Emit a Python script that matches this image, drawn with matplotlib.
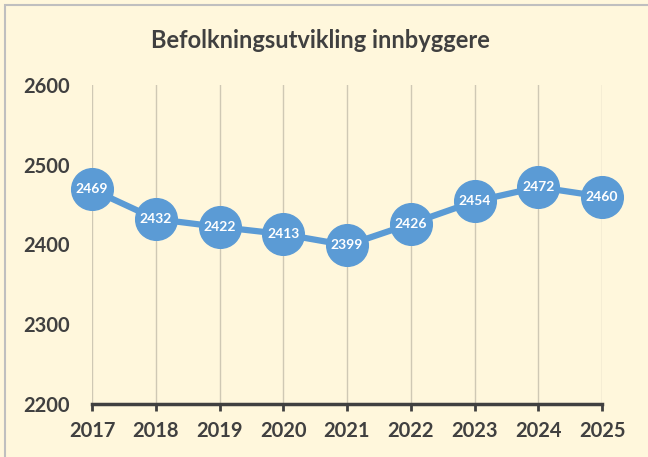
import matplotlib
matplotlib.use("Agg")
import matplotlib.pyplot as plt
from matplotlib.patches import Rectangle

years = [2017, 2018, 2019, 2020, 2021, 2022, 2023, 2024, 2025]
population = [2469, 2432, 2422, 2413, 2399, 2426, 2454, 2472, 2460]
yticks = [2200, 2300, 2400, 2500, 2600]
title = "Befolkningsutvikling innbyggere"

W, H = 648, 457
fig = plt.figure(figsize=(W/100, H/100), dpi=100)
bg = "#FFF7DC"
fig.patch.set_facecolor(bg)
fam = ["Lato", "DejaVu Sans"]
txt = "#404040"

# outer border (left/top visible)
fig.patches.append(Rectangle((5/W, -0.1), 1.2, (H-5)/H + 0.1, transform=fig.transFigure,
                             fill=False, edgecolor="#BFBFBF", linewidth=1.5))

ax = fig.add_axes([92/W, 1-404/H, (602-92)/W, (404-85)/H])
ax.set_facecolor(bg)
ax.set_xlim(years[0], years[-1])
ax.set_ylim(yticks[0], yticks[-1])
for s in ["top", "right", "left"]:
    ax.spines[s].set_visible(False)
ax.spines["bottom"].set_color(txt)
ax.spines["bottom"].set_linewidth(2.5)
ax.set_xticks(years)
ax.set_xticklabels([str(y) for y in years])
ax.set_yticks(yticks)
ax.tick_params(axis="x", direction="out", length=5, width=2, color=txt, pad=7,
               labelsize=14.5, labelcolor=txt)
ax.tick_params(axis="y", length=0, pad=16, labelsize=14.5, labelcolor=txt)
for lab in ax.get_xticklabels() + ax.get_yticklabels():
    lab.set_fontfamily(fam)
    lab.set_fontweight("bold")
ax.grid(axis="x", color="#CFC8B4", linewidth=1)
ax.set_axisbelow(True)

ax.plot(years, population, color="#5B9BD5", linewidth=4.5, marker="o",
        markersize=30, markeredgecolor="#5B9BD5", clip_on=False, zorder=3)
for x, y in zip(years, population):
    ax.text(x, y, str(y), ha="center", va="center", color="white", fontsize=10,
            fontweight="bold", family=fam, zorder=4)

fig.text(320/W, 1-40/H, title, ha="center", va="center", fontsize=17,
         fontweight="bold", color=txt, family=fam)

fig.savefig("out.png", dpi=100, facecolor=bg)
